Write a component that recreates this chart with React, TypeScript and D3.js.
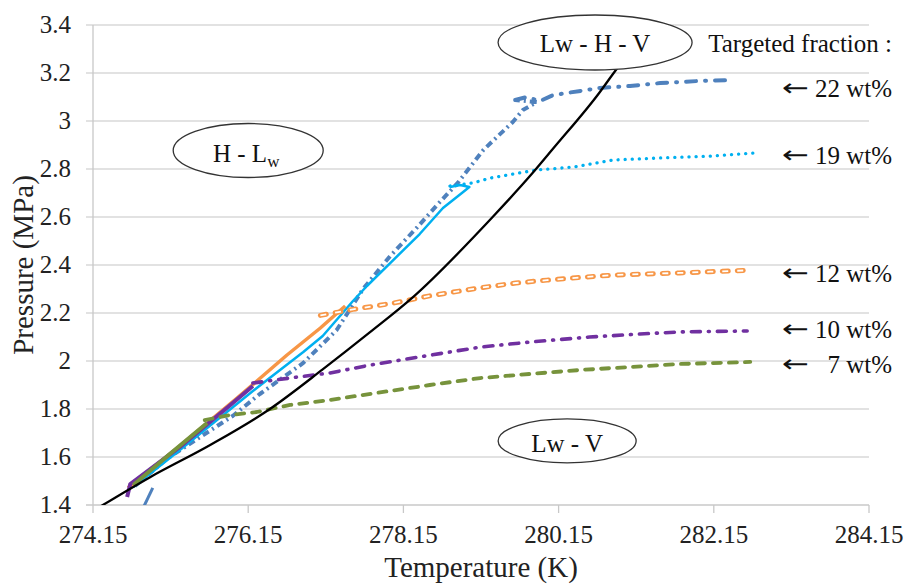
import React from "react";
import * as d3 from "d3";

const W = 906;
const H = 584;
const X0 = 93, X1 = 869, Y0 = 505, Y1 = 25;

const xTicks = [274.15, 276.15, 278.15, 280.15, 282.15, 284.15];
const xTickLabels = ["274.15", "276.15", "278.15", "280.15", "282.15", "284.15"];
const yTicks = [1.4, 1.6, 1.8, 2.0, 2.2, 2.4, 2.6, 2.8, 3.0, 3.2, 3.4];
const yTickLabels = ["1.4", "1.6", "1.8", "2", "2.2", "2.4", "2.6", "2.8", "3", "3.2", "3.4"];

// equilibrium curve (black)
const equilibrium: [number, number][] = [
  [274.2, 1.385], [274.88, 1.515], [275.66, 1.65], [276.43, 1.8], [277.11, 1.965],
  [277.72, 2.12], [278.27, 2.265], [279.3, 2.6], [279.82, 2.785], [280.08, 2.885],
  [280.68, 3.12], [280.86, 3.2], [281.05, 3.28],
];

// 22 wt%
const s22Pre: [number, number][] = [[274.77, 1.37], [274.92, 1.471]];
const s22Rise: [number, number][] = [
  [274.69, 1.479], [275.1, 1.592], [275.53, 1.683], [275.95, 1.771], [276.3, 1.8625],
  [276.86, 1.992], [277.29, 2.129], [277.63, 2.3], [277.98, 2.4375], [278.33, 2.558],
  [278.62, 2.6625], [278.85, 2.742], [279.18, 2.879], [279.56, 2.996], [279.69, 3.046],
  [279.87, 3.079], [279.73, 3.083], [279.59, 3.0875],
];
const s22Plateau: [number, number][] = [
  [279.59, 3.0875], [279.74, 3.1], [279.91, 3.083], [280.08, 3.108], [280.26, 3.117],
  [280.68, 3.1375], [281.07, 3.146], [281.46, 3.158], [281.97, 3.167], [282.4, 3.171],
];

// 19 wt%
const s19Rise: [number, number][] = [
  [274.67, 1.475], [275.27, 1.629], [276.21, 1.875], [276.86, 2.0375], [277.11, 2.104],
  [277.5, 2.25], [277.68, 2.3125], [277.98, 2.408], [278.36, 2.529], [278.66, 2.6375],
  [278.92, 2.704], [279.0, 2.725], [278.88, 2.733], [278.75, 2.725],
];
const s19Plateau: [number, number][] = [
  [278.75, 2.729], [279.05, 2.742], [279.27, 2.7625], [279.87, 2.796], [280.34, 2.808],
  [280.85, 2.8375], [281.46, 2.846], [282.14, 2.854], [282.68, 2.867],
];

// 12 wt%
const s12Rise: [number, number][] = [
  [274.6, 1.471], [275.27, 1.646], [276.01, 1.846], [276.65, 2.025], [277.08, 2.1375],
  [277.4, 2.229],
];
const s12Plateau: [number, number][] = [
  [277.08, 2.19], [277.5, 2.215], [278.0, 2.24], [278.5, 2.272], [279.14, 2.305],
  [279.6, 2.325], [280.0, 2.337], [280.5, 2.35], [280.85, 2.358], [281.3, 2.363],
  [281.71, 2.367], [282.1, 2.372], [282.53, 2.377],
];

// 10 wt%
const s10Rise: [number, number][] = [
  [274.59, 1.433], [274.63, 1.4875], [275.27, 1.642], [275.92, 1.817], [276.21, 1.896],
];
const s10Plateau: [number, number][] = [
  [276.21, 1.908], [276.78, 1.933], [277.2, 1.95], [277.72, 1.983], [278.36, 2.017],
  [279.14, 2.058], [279.78, 2.079], [280.55, 2.1], [281.2, 2.1125], [281.71, 2.121],
  [282.58, 2.125],
];

// 7 wt%
const s7Rise: [number, number][] = [
  [274.67, 1.483], [275.14, 1.6125], [275.62, 1.742],
];
const s7Plateau: [number, number][] = [
  [275.59, 1.754], [275.92, 1.775], [276.26, 1.7875], [276.69, 1.817], [277.2, 1.8375],
  [277.89, 1.871], [278.49, 1.9], [279.14, 1.929], [279.78, 1.946], [280.43, 1.9625],
  [281.07, 1.975], [281.71, 1.9875], [282.62, 1.996],
];

const fractionLabels = ["22 wt%", "19 wt%", "12 wt%", "10 wt%", "7 wt%"];
const fractionLabelP = [3.133, 2.855, 2.362, 2.129, 1.983];

const FONT = "'Liberation Serif', 'Times New Roman', serif";

export default function App() {
  const x = d3.scaleLinear().domain([274.15, 284.15]).range([X0, X1]);
  const y = d3.scaleLinear().domain([1.4, 3.4]).range([Y0, Y1]);
  const line = d3.line<[number, number]>().x((d) => x(d[0])).y((d) => y(d[1]));
  const smooth = d3
    .line<[number, number]>()
    .x((d) => x(d[0]))
    .y((d) => y(d[1]))
    .curve(d3.curveMonotoneX);

  const blue = "#4f81bd";
  const lblue = "#00b0f0";
  const orange = "#f79646";
  const purple = "#7030a0";
  const green = "#77933c";

  return (
    <svg width={W} height={H} style={{ display: "block", position: "absolute", left: 0, top: 0 }}>
      <defs>
        <clipPath id="plot">
          <rect x={X0} y={Y1 - 2} width={X1 - X0} height={Y0 - Y1 + 2} />
        </clipPath>
      </defs>
      <rect width={W} height={H} fill="#fff" />
      {/* gridlines */}
      {yTicks.map((t, i) => (
        <line key={"g" + i} x1={86} x2={X1} y1={y(t)} y2={y(t)} stroke={i === 0 ? "#c8c8c8" : "#d9d9d9"} strokeWidth={1.3} />
      ))}
      <line x1={X0} x2={X0} y1={Y1} y2={Y0} stroke="#c8c8c8" strokeWidth={1.3} />
      {xTicks.map((t, i) => (
        <line key={"xt" + i} x1={x(t)} x2={x(t)} y1={Y0} y2={Y0 + 8} stroke="#c8c8c8" strokeWidth={1.3} />
      ))}
      {/* tick labels */}
      {yTicks.map((t, i) => (
        <text key={"yl" + i} x={71} y={y(t) + 8} textAnchor="end" fontFamily={FONT} fontSize={25} fill="#222">
          {yTickLabels[i]}
        </text>
      ))}
      {xTicks.map((t, i) => (
        <text key={"xl" + i} x={x(t)} y={543} textAnchor="middle" fontFamily={FONT} fontSize={25} fill="#222">
          {xTickLabels[i]}
        </text>
      ))}
      <text x={(X0 + X1) / 2} y={577} textAnchor="middle" fontFamily={FONT} fontSize={29} fill="#222">
        Temperature (K)
      </text>
      <text transform={`translate(33,${(Y0 + Y1) / 2}) rotate(-90)`} textAnchor="middle" fontFamily={FONT} fontSize={29} fill="#222">
        Pressure (MPa)
      </text>

      <g clipPath="url(#plot)" fill="none" strokeLinejoin="round">
        {/* 22 wt% */}
        <path d={line(s22Pre)!} stroke={blue} strokeWidth={3} />
        <path d={line(s22Rise)!} stroke={blue} strokeWidth={4} strokeDasharray="7 4 2 4" strokeLinecap="butt" />
        <path d={line(s22Plateau)!} stroke={blue} strokeWidth={4} strokeDasharray="10 9 1 9" strokeLinecap="round" />
        {/* 19 wt% */}
        <path d={line(s19Rise)!} stroke={lblue} strokeWidth={2.5} />
        <path d={line(s19Plateau)!} stroke={lblue} strokeWidth={3.3} strokeDasharray="0.1 7" strokeLinecap="round" />
        {/* 12 wt% */}
        <path d={line(s12Rise)!} stroke={orange} strokeWidth={3.5} />
        <path d={line(s12Plateau)!} stroke={orange} strokeWidth={5} strokeDasharray="6 9" strokeLinecap="round" />
        <path d={line(s12Plateau)!} stroke="#fff" strokeWidth={1.8} strokeDasharray="6 9" strokeLinecap="butt" />
        {/* 10 wt% */}
        <path d={line(s10Rise)!} stroke={purple} strokeWidth={4} />
        <path d={line(s10Plateau)!} stroke={purple} strokeWidth={3.6} strokeDasharray="9 8 1 8" strokeLinecap="round" />
        {/* 7 wt% */}
        <path d={line(s7Rise)!} stroke={green} strokeWidth={4} />
        <path d={line(s7Plateau)!} stroke={green} strokeWidth={3.8} strokeDasharray="8 8" strokeLinecap="round" />
        {/* equilibrium */}
        <path d={smooth(equilibrium)!} stroke="#000" strokeWidth={2.3} />
      </g>

      {/* region ellipses */}
      <ellipse cx={x(280.62)} cy={y(3.327)} rx={97} ry={27.5} fill="#fff" stroke="#333" strokeWidth={1.3} />
      <text x={x(280.62)} y={52} textAnchor="middle" fontFamily={FONT} fontSize={25} fill="#111">
        Lw - H - V
      </text>
      <ellipse cx={x(276.15)} cy={y(2.877)} rx={75} ry={27} fill="#fff" stroke="#333" strokeWidth={1.3} />
      <text x={x(276.15) - 2} y={162} textAnchor="middle" fontFamily={FONT} fontSize={25} fill="#111">
        H - L<tspan fontSize={17} dy={5}>w</tspan>
      </text>
      <ellipse cx={x(280.26)} cy={y(1.667)} rx={69} ry={22} fill="#fff" stroke="#333" strokeWidth={1.3} />
      <text x={x(280.26)} y={452} textAnchor="middle" fontFamily={FONT} fontSize={25} fill="#111">
        Lw - V
      </text>

      {/* targeted fraction labels */}
      <text x={892} y={52} textAnchor="end" fontFamily={FONT} fontSize={25} fill="#111">
        Targeted fraction :
      </text>
      {fractionLabels.map((lab, i) => (
        <g key={"fl" + i}>
          <text
            x={782}
            y={y(fractionLabelP[i]) + 7}
            textAnchor="start"
            fontFamily="'DejaVu Sans', sans-serif"
            fontSize={24}
            textLength={27}
            lengthAdjust="spacingAndGlyphs"
            fill="#111"
          >
            ←
          </text>
          <text x={892} y={y(fractionLabelP[i]) + 8} textAnchor="end" fontFamily={FONT} fontSize={25} fill="#111">
            {lab}
          </text>
        </g>
      ))}
    </svg>
  );
}
